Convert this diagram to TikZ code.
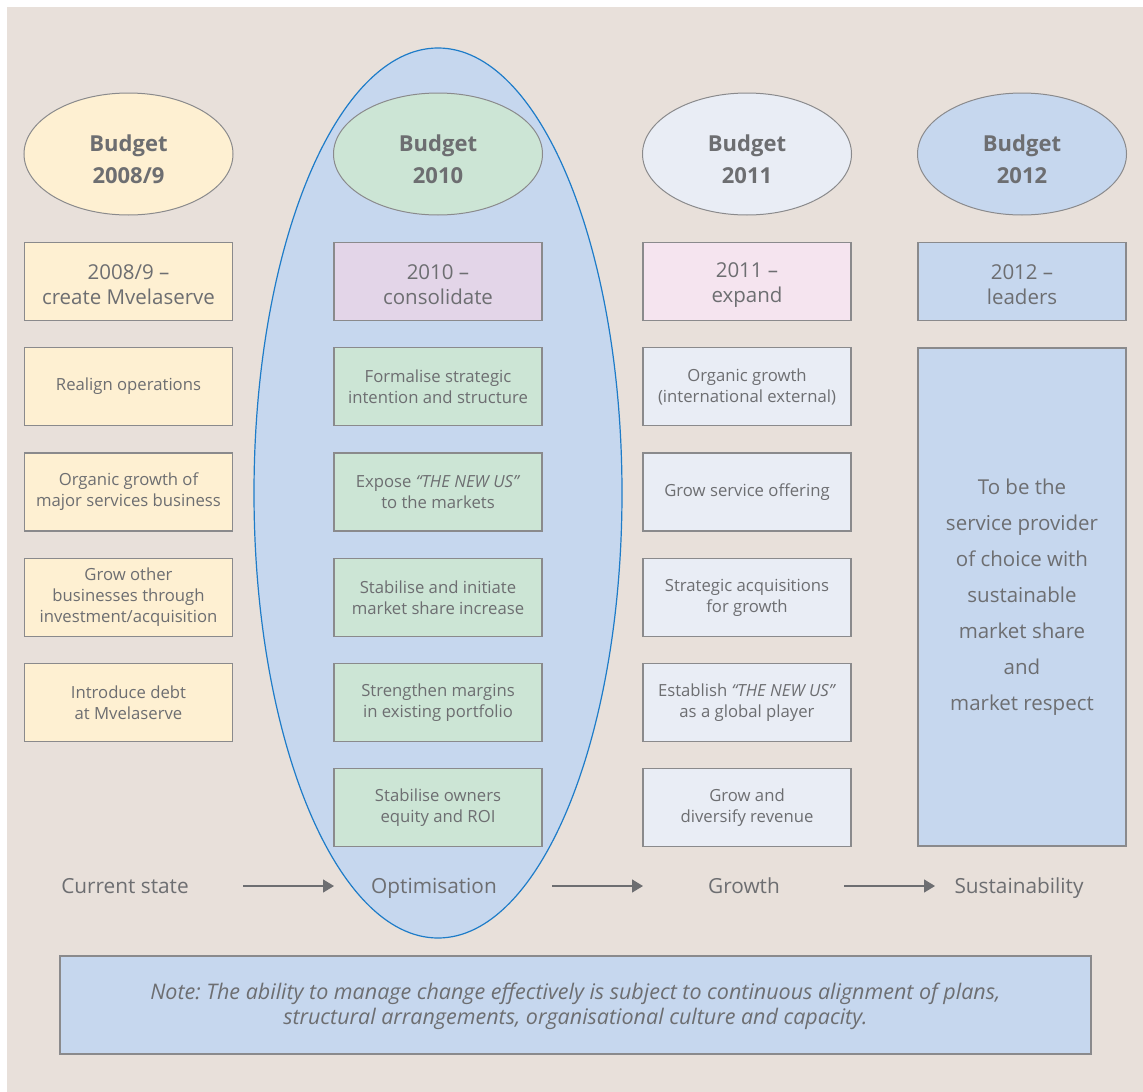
\documentclass[tikz,border=0pt]{standalone}
\usepackage{fontspec}
\setmainfont{Open Sans}
\frenchspacing
\usetikzlibrary{arrows.meta,shapes.geometric}
\definecolor{bgc}{HTML}{E8E0DA}
\definecolor{yel}{HTML}{FEF0D2}
\definecolor{grn}{HTML}{CCE5D5}
\definecolor{lav}{HTML}{E3D5E8}
\definecolor{pnk}{HTML}{F5E4EF}
\definecolor{gbl}{HTML}{E9EDF5}
\definecolor{blu}{HTML}{C6D7EE}
\definecolor{brd}{HTML}{8A8A8C}
\definecolor{txt}{HTML}{6D6E71}
\definecolor{ring}{HTML}{1E7CC8}
\tikzset{
  budget/.style={ellipse, draw=brd, line width=1pt, minimum width=209pt, minimum height=122pt, inner sep=0pt},
  budgettext/.style={text=txt, align=center, inner sep=0pt, font=\fontsize{22}{32}\selectfont\bfseries},
  box/.style={rectangle, draw=brd, line width=1.3pt, minimum width=208pt, minimum height=78pt, inner sep=0pt,
    text=txt, align=center, font=\fontsize{16.7}{21}\selectfont},
  headbox/.style={box},
  headtext/.style={text=txt, align=center, inner sep=0pt, font=\fontsize{20.5}{25}\selectfont},
  bigbox/.style={box, minimum height=498pt, font=\fontsize{20.5}{36}\selectfont},
  stage/.style={text=txt, font=\fontsize{20.8}{24}\selectfont, inner sep=0pt, anchor=base},
  arr/.style={draw=txt, line width=1.4pt, -{Triangle[length=11pt,width=13pt]}},
  notebox/.style={rectangle, draw=brd, line width=1.3pt, fill=blu, minimum width=1031pt, minimum height=98pt,
    inner sep=0pt},
  notetext/.style={text=txt, align=center, inner sep=0pt, font=\fontsize{21.5}{25}\selectfont\itshape},
  ring/.style={ellipse, draw=ring, line width=1.2pt, fill=blu, minimum width=368pt, minimum height=890pt, inner sep=0pt}
}
\begin{document}
\begin{tikzpicture}[x=1pt,y=-1pt]
\useasboundingbox (0,0) rectangle (1143,1092);
\fill[white] (0,0) rectangle (1143,1092);
\fill[bgc] (7,7) rectangle (1143,1092);
% big optimisation ellipse
\node[ring] (optring) at (438,493) {};
% budget ellipses
\node[budget, fill=yel] (b1) at (128.5,154) {};
\node[budget, fill=grn] (b2) at (438,154) {};
\node[budget, fill=gbl] (b3) at (747,154) {};
\node[budget, fill=blu] (b4) at (1022,154) {};
\node[budgettext] (b1t) at (128.5,159) {Budget\\2008/9};
\node[budgettext] (b2t) at (438,159) {Budget\\2010};
\node[budgettext] (b3t) at (747,159) {Budget\\2011};
\node[budgettext] (b4t) at (1022,159) {Budget\\2012};
% header boxes
\node[headbox, fill=yel] (c1h) at (128.5,281.5) {};
\node[headbox, fill=lav] (c2h) at (438,281.5) {};
\node[headbox, fill=pnk] (c3h) at (747,281.5) {};
\node[headbox, fill=blu] (c4h) at (1022,281.5) {};
\node[headtext] (c1ht) at (128.5,285) {2008/9 –\\create Mvelaserve};
\node[headtext] (c2ht) at (438,285) {2010 –\\consolidate};
\node[headtext] (c3ht) at (747,285) {2011 –\\expand};
\node[headtext] (c4ht) at (1022,285) {2012 –\\leaders};
% column 1
\node[box, fill=yel] (c1a) at (128.5,386.5) {Realign operations};
\node[box, fill=yel] (c1b) at (128.5,492) {Organic growth of\\major services business};
\node[box, fill=yel] (c1c) at (128.5,597.5) {Grow other\\businesses through\\investment/acquisition};
\node[box, fill=yel] (c1d) at (128.5,702.5) {Introduce debt\\at Mvelaserve};
% column 2
\node[box, fill=grn] (c2a) at (438,386.5) {Formalise strategic\\intention and structure};
\node[box, fill=grn] (c2b) at (438,492) {Expose \textit{“THE NEW US”}\\to the markets};
\node[box, fill=grn] (c2c) at (438,597.5) {Stabilise and initiate\\market share increase};
\node[box, fill=grn] (c2d) at (438,702.5) {Strengthen margins\\in existing portfolio};
\node[box, fill=grn] (c2e) at (438,807.5) {Stabilise owners\\equity and ROI};
% column 3
\node[box, fill=gbl] (c3a) at (747,386.5) {Organic growth\\(international external)};
\node[box, fill=gbl] (c3b) at (747,492) {Grow service offering};
\node[box, fill=gbl] (c3c) at (747,597.5) {Strategic acquisitions\\for growth};
\node[box, fill=gbl] (c3d) at (747,702.5) {Establish \textit{“THE NEW US”}\\as a global player};
\node[box, fill=gbl] (c3e) at (747,807.5) {Grow and\\diversify revenue};
% column 4
\node[bigbox, fill=blu] (c4a) at (1022,597) {To be the\\service provider\\of choice with\\sustainable\\market share\\and\\market respect};
% stages
\node[stage] (s1) at (125,893) {Current state};
\node[stage] (s2) at (434,893) {Optimisation};
\node[stage] (s3) at (744,893) {Growth};
\node[stage] (s4) at (1019,893) {Sustainability};
\coordinate (a1s) at (243,886); \coordinate (a1e) at (334,886);
\coordinate (a2s) at (552,886); \coordinate (a2e) at (643,886);
\coordinate (a3s) at (844,886); \coordinate (a3e) at (935,886);
\draw[arr] (a1s) -- (a1e);
\draw[arr] (a2s) -- (a2e);
\draw[arr] (a3s) -- (a3e);
% note
\node[notebox] (note) at (575.5,1005) {};
\node[notetext] (notet) at (575.5,1006) {Note: The ability to manage change effectively is subject to continuous alignment of plans,\\structural arrangements, organisational culture and capacity.};
\end{tikzpicture}
\end{document}
